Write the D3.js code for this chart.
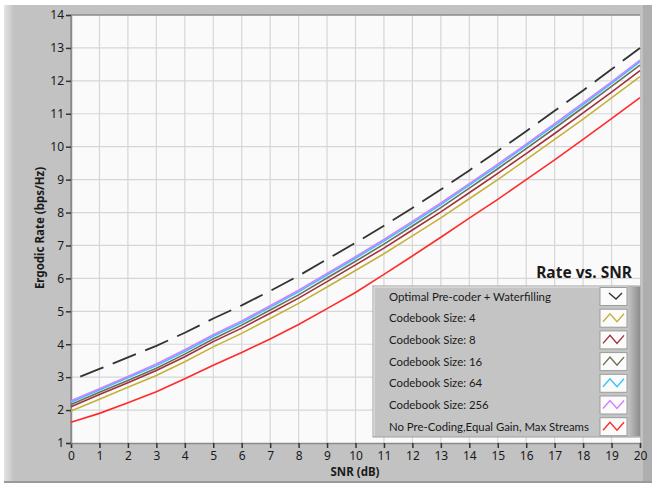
<!DOCTYPE html>
<html>
<head>
<meta charset="utf-8">
<script src="https://cdn.jsdelivr.net/npm/d3@7"></script>
<style>
  body { margin: 0; background: #fff; }
  text { font-family: "Noto Sans", "Open Sans", sans-serif; fill: #1a1a1a; }
</style>
</head>
<body>
<div id="chart"></div>
<script>
const snr = d3.range(0, 21)

const optimal   = [2.90, 3.25, 3.60, 3.95, 4.35, 4.78, 5.18, 5.62, 6.08, 6.58, 7.08, 7.60, 8.14, 8.70, 9.28, 9.87, 10.47, 11.09, 11.71, 12.35, 13.00]
const cb4       = [1.97, 2.33, 2.69, 3.05, 3.47, 3.92, 4.33, 4.78, 5.24, 5.74, 6.24, 6.75, 7.29, 7.84, 8.42, 9.00, 9.61, 10.22, 10.84, 11.48, 12.13]
const cb8       = [2.10, 2.47, 2.83, 3.20, 3.62, 4.08, 4.49, 4.94, 5.40, 5.90, 6.41, 6.92, 7.47, 8.02, 8.60, 9.19, 9.79, 10.40, 11.03, 11.66, 12.31]
const cb16      = [2.17, 2.54, 2.90, 3.27, 3.70, 4.16, 4.58, 5.04, 5.50, 6.01, 6.52, 7.04, 7.59, 8.15, 8.74, 9.33, 9.94, 10.56, 11.19, 11.83, 12.48]
const cb64      = [2.24, 2.61, 2.98, 3.35, 3.78, 4.24, 4.66, 5.12, 5.59, 6.10, 6.61, 7.13, 7.68, 8.24, 8.83, 9.42, 10.03, 10.65, 11.28, 11.92, 12.58]
const cb256     = [2.28, 2.65, 3.02, 3.40, 3.83, 4.29, 4.71, 5.17, 5.64, 6.15, 6.66, 7.18, 7.73, 8.29, 8.88, 9.47, 10.08, 10.70, 11.33, 11.97, 12.63]
const noPrecode = [1.63, 1.90, 2.22, 2.56, 2.95, 3.36, 3.75, 4.16, 4.60, 5.08, 5.57, 6.12, 6.68, 7.25, 7.83, 8.40, 9.00, 9.60, 10.22, 10.85, 11.49]

const seriesNames = ["Optimal Pre-coder + Waterfilling", "Codebook Size: 4", "Codebook Size: 8",
  "Codebook Size: 16", "Codebook Size: 64", "Codebook Size: 256", "No Pre-Coding,Equal Gain, Max Streams"]
const seriesValues = [optimal, cb4, cb8, cb16, cb64, cb256, noPrecode]
const seriesColors = ["#333333", "#c4b13a", "#a0303c", "#6e6e55", "#33c4ff", "#cc80ff", "#ff2a2a"]

const xTicks = d3.range(0, 21)
const yTicks = d3.range(1, 15)

const W = 658, H = 485
const plot = {left: 71, right: 640, top: 15, bottom: 443}

const svg = d3.select("#chart").append("svg")
  .attr("width", W).attr("height", H)
const defs = svg.append("defs")

// panel background + bevels
svg.append("rect").attr("x", 4).attr("y", 5).attr("width", 648).attr("height", 478).attr("fill", "#c2c2c2")
const lg = defs.append("linearGradient").attr("id", "leftbev")
lg.append("stop").attr("offset", 0).attr("stop-color", "#e4e4e4")
lg.append("stop").attr("offset", 1).attr("stop-color", "#c2c2c2")
svg.append("rect").attr("x", 4).attr("y", 5).attr("width", 10).attr("height", 478).attr("fill", "url(#leftbev)")
svg.append("rect").attr("x", 643).attr("y", 5).attr("width", 9).attr("height", 478).attr("fill", "#aeaeae")
svg.append("rect").attr("x", 4).attr("y", 481).attr("width", 648).attr("height", 2).attr("fill", "#9a9a9a")

const x = d3.scaleLinear().domain([0, 20]).range([plot.left, plot.right])
const y = d3.scaleLinear().domain([1, 14]).range([plot.bottom, plot.top])

svg.append("rect")
  .attr("x", plot.left).attr("y", plot.top)
  .attr("width", plot.right - plot.left).attr("height", plot.bottom - plot.top)
  .attr("fill", "#fafafa")

// grid
svg.append("g").selectAll("line").data(xTicks.slice(1, -1)).join("line")
  .attr("x1", d => x(d)).attr("x2", d => x(d))
  .attr("y1", plot.top).attr("y2", plot.bottom)
  .attr("stroke", "#d6d6d6").attr("stroke-width", 1.2)
svg.append("g").selectAll("line").data(yTicks.slice(1, -1)).join("line")
  .attr("x1", plot.left).attr("x2", plot.right)
  .attr("y1", d => y(d)).attr("y2", d => y(d))
  .attr("stroke", "#d6d6d6").attr("stroke-width", 1.2)

// frame lines left/top
svg.append("line").attr("x1", plot.left).attr("x2", plot.right).attr("y1", plot.top).attr("y2", plot.top)
  .attr("stroke", "#8a8a8a").attr("stroke-width", 1.5)
svg.append("line").attr("x1", plot.left).attr("x2", plot.left).attr("y1", plot.top).attr("y2", plot.bottom)
  .attr("stroke", "#8a8a8a").attr("stroke-width", 1.5)

// axes
const xAxis = svg.append("g").attr("transform", `translate(0,${plot.bottom})`)
  .call(d3.axisBottom(x).tickValues(xTicks).tickSize(5).tickPadding(3).tickFormat(d3.format("d")))
const yAxis = svg.append("g").attr("transform", `translate(${plot.left},0)`)
  .call(d3.axisLeft(y).tickValues(yTicks).tickSize(5).tickPadding(2).tickFormat(d3.format("d")))
for (const ax of [xAxis, yAxis]) {
  ax.select(".domain").attr("stroke", "#8a8a8a").attr("stroke-width", 1.5)
  ax.selectAll(".tick line").attr("stroke", "#333").attr("stroke-width", 1.5)
  ax.selectAll(".tick text").attr("font-size", 12).attr("fill", "#1a1a1a")
    .style("font-family", "'Noto Sans', sans-serif")
}

svg.append("text").attr("x", 355).attr("y", 476).attr("text-anchor", "middle")
  .attr("font-size", 11.5).attr("font-weight", "bold").text("SNR (dB)")
svg.append("text").attr("transform", "translate(44,228) rotate(-90)").attr("text-anchor", "middle")
  .attr("font-size", 11.5).attr("font-weight", "bold").text("Ergodic Rate (bps/Hz)")

// series
const line = d3.line().x((d, i) => x(snr[i])).y(d => y(d))
const order = [6, 1, 2, 3, 4, 5, 0]
for (const k of order) {
  const p = svg.append("path").datum(seriesValues[k])
    .attr("d", line).attr("fill", "none")
    .attr("stroke", seriesColors[k]).attr("stroke-width", 1.6)
  if (k === 0) p.attr("stroke-dasharray", "25,10").attr("stroke-dashoffset", 25).attr("stroke-width", 1.8)
}

// legend
svg.append("text").attr("x", 632).attr("y", 278).attr("text-anchor", "end")
  .attr("font-size", 15.5).attr("font-weight", "bold").attr("fill", "#111").text("Rate vs. SNR")

const leg = svg.append("g")
const legX = 373, legY = 286, legW = 267, legH = 151
leg.append("rect").attr("x", legX).attr("y", legY).attr("width", legW).attr("height", legH)
  .attr("fill", "#c4c4c4").attr("stroke", "#a0a0a0")
const rg = defs.append("linearGradient").attr("id", "legright")
rg.append("stop").attr("offset", 0).attr("stop-color", "#c4c4c4")
rg.append("stop").attr("offset", 1).attr("stop-color", "#8c8c8c")
leg.append("rect").attr("x", 628).attr("y", legY + 1).attr("width", 12).attr("height", legH - 2).attr("fill", "url(#legright)")
leg.append("line").attr("x1", legX + 1).attr("x2", 628).attr("y1", legY + 1).attr("y2", legY + 1).attr("stroke", "#e6e6e6")
leg.append("line").attr("x1", legX + 1).attr("x2", legX + 1).attr("y1", legY + 1).attr("y2", legY + legH - 1).attr("stroke", "#e6e6e6")

const rowH = 21.7
const labels = []
seriesNames.forEach((name, i) => {
  const cy = legY + 10 + i * rowH
  labels.push(leg.append("text").attr("x", 389).attr("y", cy + 4.5).attr("font-size", 12)
    .style("font-family", "Lato, 'Noto Sans', sans-serif").text(name))
  leg.append("rect").attr("x", 600).attr("y", cy - 8.5).attr("width", 27).attr("height", 18)
    .attr("fill", "#fbfbfb").attr("stroke", "#9c9c9c")
  const zz = i === 0
    ? [[609, cy - 3], [616, cy + 3], [622, cy - 3]]
    : [[603, cy + 4], [610, cy - 4], [617, cy + 4], [624, cy - 4]]
  leg.append("path").attr("d", d3.line()(zz)).attr("fill", "none")
    .attr("stroke", seriesColors[i]).attr("stroke-width", 1.4)
})
// the longest label spans about 200px in the original, size all labels to match
const longest = labels[labels.length - 1].node().getComputedTextLength()
const fs = 12 * 200 / longest
labels.forEach(t => t.attr("font-size", fs.toFixed(2)))
</script>
</body>
</html>
